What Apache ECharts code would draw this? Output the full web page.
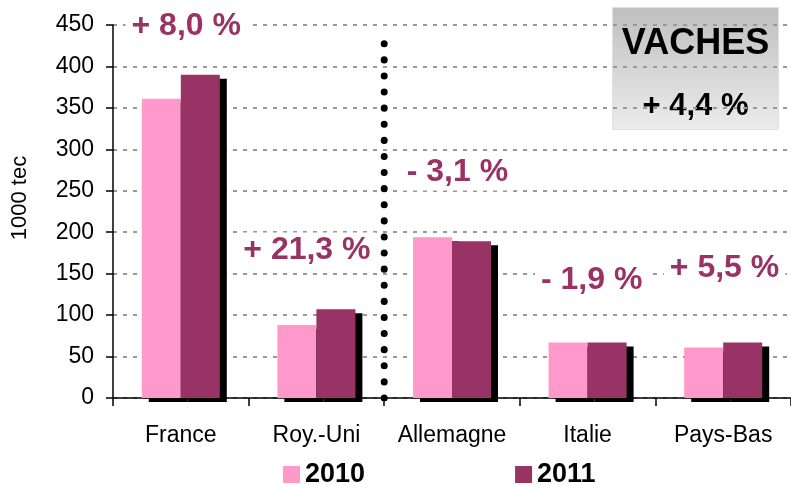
<!DOCTYPE html>
<html>
<head>
<meta charset="utf-8">
<script src="https://cdn.jsdelivr.net/npm/echarts@6/dist/echarts.min.js"></script>
<style>
  html, body { margin: 0; padding: 0; background: #fff; }
  #chart { width: 791px; height: 488px; }
</style>
</head>
<body>
<div id="chart"></div>
<script>
// data
const countries = ['France', 'Roy.-Uni', 'Allemagne', 'Italie', 'Pays-Bas'];
const val2010 = [361, 88, 194, 67, 61];
const val2011 = [390, 107, 189, 67, 67];

// percentage annotations, placed in axis units (x: 0..5 across categories)
const noteText = ['+ 8,0 %', '+ 21,3 %', '- 3,1 %', '- 1,9 %', '+ 5,5 %'];
const noteX = [0.54, 1.43, 2.54, 3.53, 4.51];
const noteY = [448, 178, 272, 142, 157];

// dotted separator between UK and continent
const sepX = 2;
const sepTop = 432;

const pink = '#ff99cc';
const plum = '#993366';

var myChart = echarts.init(document.getElementById('chart'));
var barShadow = {
  shadowColor: '#000',
  shadowBlur: 0,
  shadowOffsetX: 7,
  shadowOffsetY: 4
};

var option = {
  animation: false,
  textStyle: { fontFamily: 'Liberation Sans, Arial, sans-serif' },
  grid: { left: 113, right: -2, top: 25, bottom: 90 },
  legend: {
    data: ['2010', '2011'],
    left: 278,
    top: 456,
    itemWidth: 17,
    itemHeight: 17,
    itemGap: 150,
    icon: 'rect',
    textStyle: { fontSize: 27, fontWeight: 'bold', color: '#000' }
  },
  xAxis: [
    {
      type: 'category',
      data: countries,
      axisLine: { lineStyle: { color: '#000', width: 1.5 } },
      axisTick: { show: true, length: 8, lineStyle: { color: '#000', width: 1.5 } },
      axisLabel: { color: '#000', fontSize: 23, margin: 26, interval: 0, hideOverlap: false }
    },
    {
      type: 'value',
      min: 0,
      max: 5,
      show: false
    }
  ],
  yAxis: {
    type: 'value',
    min: 0,
    max: 450,
    interval: 50,
    axisLine: { show: true, lineStyle: { color: '#000', width: 1.5 } },
    axisTick: { show: true, length: 7, lineStyle: { color: '#000', width: 1.5 } },
    axisLabel: { color: '#000', fontSize: 23, margin: 19 },
    splitLine: { lineStyle: { color: '#999', width: 2, type: [4, 6] } }
  },
  series: [
    {
      name: '2010',
      type: 'bar',
      data: val2010,
      barWidth: 39,
      barGap: '0%',
      itemStyle: Object.assign({ color: pink }, barShadow)
    },
    {
      name: '2011',
      type: 'bar',
      data: val2011,
      barWidth: 39,
      barGap: '0%',
      itemStyle: Object.assign({ color: plum }, barShadow)
    },
    {
      name: 'sep',
      type: 'line',
      xAxisIndex: 1,
      data: [[sepX, 0], [sepX, sepTop]],
      symbol: 'none',
      lineStyle: { color: '#000', width: 7, type: [0.1, 16], cap: 'round' },
      z: 3
    },
    {
      name: 'notes',
      type: 'scatter',
      xAxisIndex: 1,
      symbolSize: 0,
      itemStyle: { opacity: 1 },
      data: noteX.map((x, i) => [x, noteY[i]]),
      label: {
        show: true,
        position: 'inside',
        formatter: p => noteText[p.dataIndex],
        fontSize: 32,
        fontWeight: 'bold',
        color: plum,
        opacity: 1,
        backgroundColor: '#fff',
        padding: [2, 6]
      },
      z: 4
    }
  ],
  graphic: [
    {
      type: 'text',
      x: 20,
      y: 198,
      rotation: Math.PI / 2,
      style: {
        text: '1000 tec',
        fill: '#000',
        font: '22px Liberation Sans, Arial, sans-serif',
        textAlign: 'center',
        textVerticalAlign: 'middle'
      }
    },
    {
      type: 'group',
      left: 612,
      top: 7,
      z: 10,
      children: [
        {
          type: 'rect',
          shape: { x: 0, y: 0, width: 166, height: 122 },
          style: {
            fill: new echarts.graphic.LinearGradient(0, 0, 0, 1, [
              { offset: 0, color: '#bfbfbf' },
              { offset: 1, color: '#ececec' }
            ]),
            stroke: '#e0e0e0',
            lineWidth: 1
          }
        },
        {
          type: 'text',
          x: 83,
          y: 37,
          style: {
            text: 'VACHES',
            fill: '#000',
            font: 'bold 36px Liberation Sans, Arial, sans-serif',
            textAlign: 'center',
            textVerticalAlign: 'middle'
          }
        },
        {
          type: 'text',
          x: 83,
          y: 99,
          style: {
            text: '+ 4,4 %',
            fill: '#000',
            font: 'bold 31px Liberation Sans, Arial, sans-serif',
            textAlign: 'center',
            textVerticalAlign: 'middle'
          }
        }
      ]
    }
  ]
};

option && myChart.setOption(option);
</script>
</body>
</html>
